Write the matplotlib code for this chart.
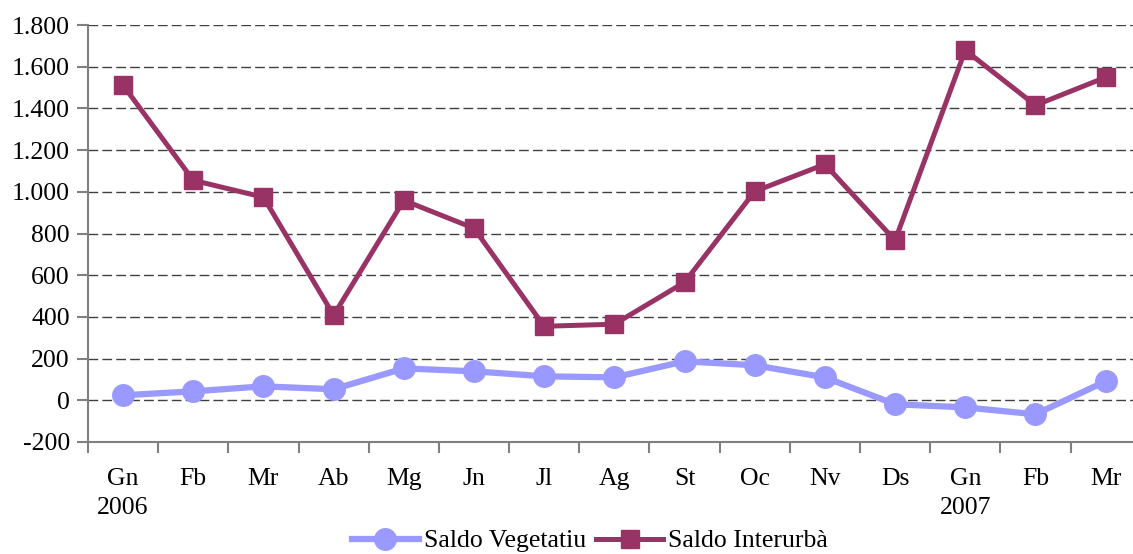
import matplotlib.pyplot as plt

plt.rcParams['font.family'] = ['Liberation Serif', 'DejaVu Serif']

# Monthly data, Jan 2006 - Mar 2007
months = ['Gn\n2006', 'Fb', 'Mr', 'Ab', 'Mg', 'Jn', 'Jl', 'Ag', 'St', 'Oc', 'Nv', 'Ds',
          'Gn\n2007', 'Fb', 'Mr']
saldo_vegetatiu = [24, 43, 67, 53, 153, 139, 115, 110, 187, 168, 110, -19, -34, -67, 91]
saldo_interurba = [1511, 1055, 974, 408, 959, 825, 355, 365, 566, 1002, 1132, 767, 1679, 1415, 1549]
y_ticks = [-200, 0, 200, 400, 600, 800, 1000, 1200, 1400, 1600, 1800]

fs = 18.5

fig = plt.figure(figsize=(11.33, 5.54), dpi=100)
ax = fig.add_axes([88 / 1133, 1 - 442 / 554, (1133 - 88) / 1133, (442 - 25) / 554])

x = list(range(len(months)))
ax.plot(x, saldo_vegetatiu, color='#9999FF', linewidth=4.5, marker='o', markersize=15.5,
        label='Saldo Vegetatiu', zorder=3)
ax.plot(x, saldo_interurba, color='#993366', linewidth=3.6, marker='s', markersize=12.5,
        label='Saldo Interurbà', zorder=3)

ax.set_ylim(-200, 1800)
ax.set_yticks(y_ticks)
ax.set_yticklabels([f'{v:,}'.replace(',', '.') for v in y_ticks])
ax.set_xlim(-0.5, 14.39)
ax.set_xticks([i - 0.5 for i in range(15)])
ax.set_xticklabels([])
ax.set_xticks(x, minor=True)
ax.set_xticklabels(months, minor=True, linespacing=1.4, va='top')
ax.tick_params(axis='x', which='minor', length=0, pad=19, labelsize=fs)
ax.tick_params(axis='x', which='major', length=8, direction='out', color='#808080', width=1.5)
ax.tick_params(axis='y', length=8, direction='out', color='#808080', width=1.5, labelsize=fs, pad=5)

ax.yaxis.grid(True, linestyle=(0, (7, 3)), color='#404040', linewidth=1)
ax.set_axisbelow(True)
for s in ['top', 'right']:
    ax.spines[s].set_visible(False)
for s in ['left', 'bottom']:
    ax.spines[s].set_color('#808080')
    ax.spines[s].set_linewidth(1.5)

fig.legend(loc='center', bbox_to_anchor=(590 / 1133, 1 - 541 / 554), ncol=2, frameon=False,
           fontsize=fs, handlelength=2.6, columnspacing=0.4, handletextpad=0.2)

fig.savefig('out.png', dpi=100)
